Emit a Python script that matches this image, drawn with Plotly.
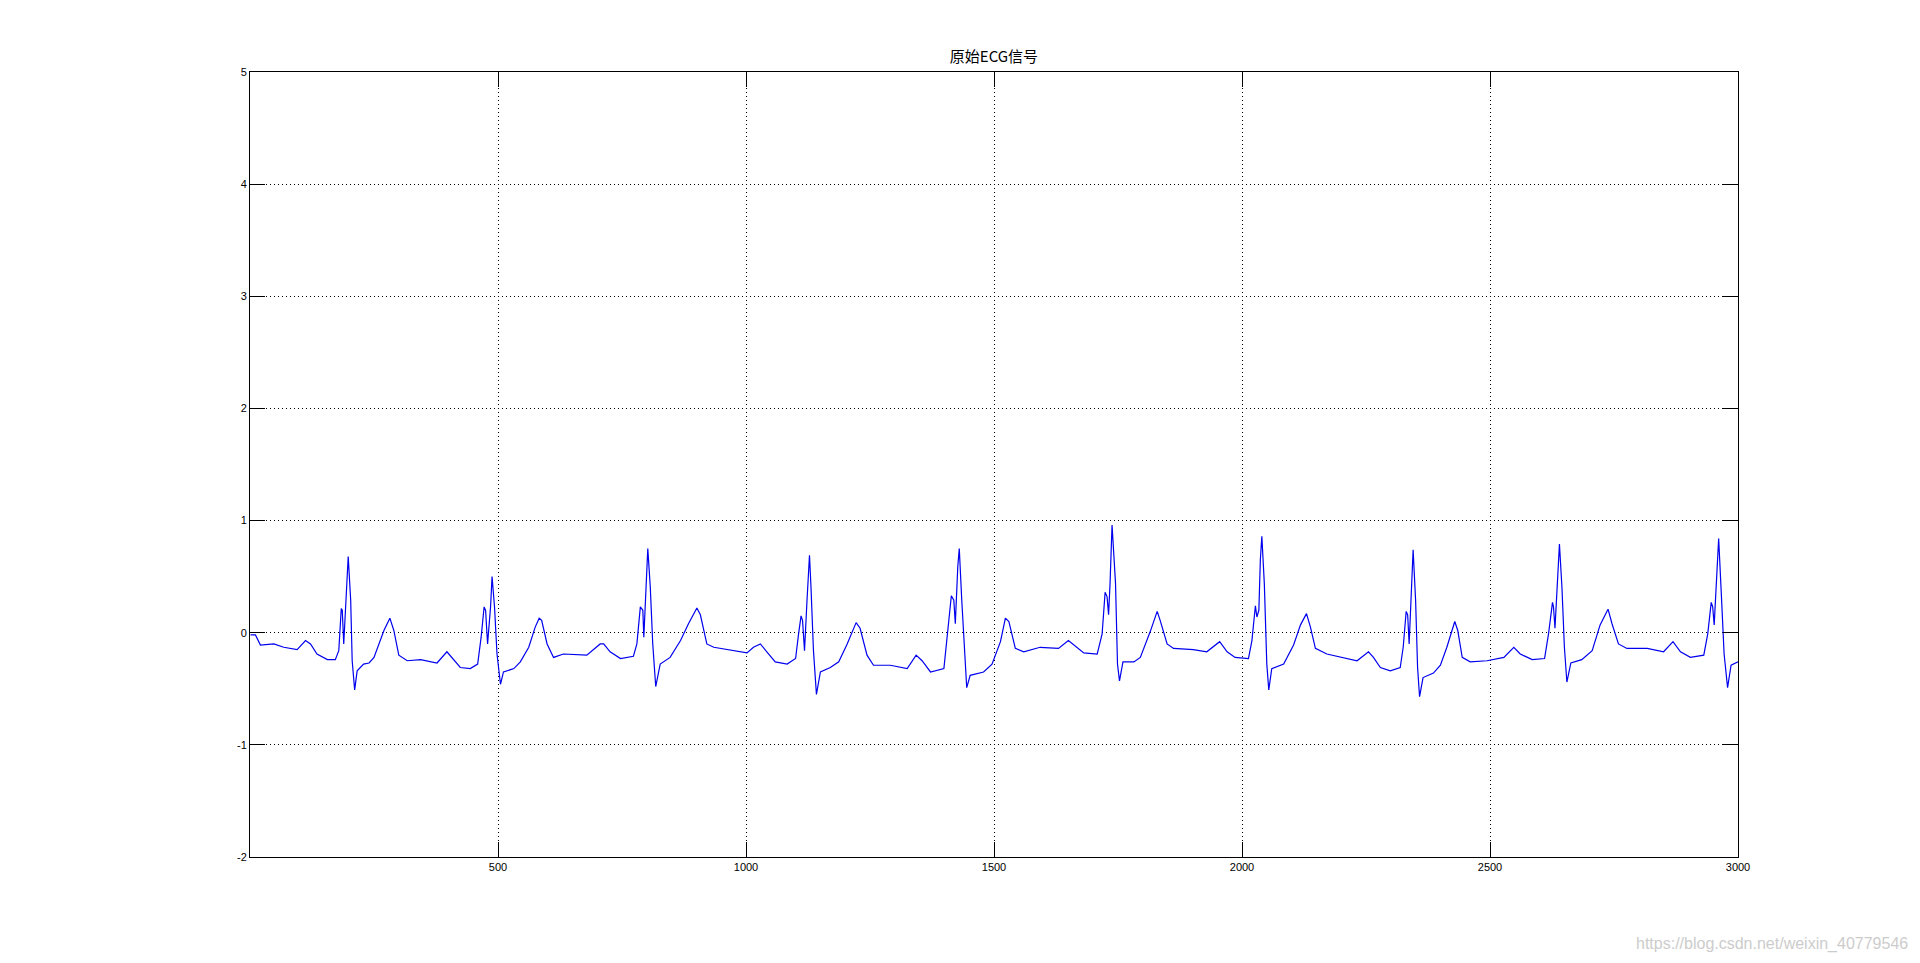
import plotly.graph_objects as go

# Sample index and amplitude
sample_idx = [
    1, 11, 21, 48, 68, 95, 112, 122, 135, 156, 172, 179, 184, 186, 189, 195, 198, 203, 206, 211,
    216, 229, 240, 250, 270, 282, 290, 300, 317, 344, 377, 397, 411, 424, 444, 459, 466, 472, 475, 479,
    485, 488, 493, 498, 505, 511, 532, 545, 562, 575, 583, 588, 599, 612, 632, 679,
    706, 713, 726, 747, 773, 780, 787, 792, 794, 798, 802, 807, 812, 818, 827, 847, 868, 884, 901, 908,
    921, 935, 975, 1002, 1015, 1029, 1042, 1059, 1083, 1100, 1106, 1111, 1114, 1118, 1123, 1128, 1131, 1136, 1142, 1150,
    1170, 1187, 1204, 1222, 1230, 1244, 1257, 1291, 1325, 1343, 1355, 1372, 1399, 1405, 1414, 1419, 1422, 1427, 1430, 1435,
    1441, 1445, 1452, 1479, 1496,
    1513, 1523, 1530, 1543, 1560, 1593, 1630, 1650, 1661, 1681, 1708, 1718, 1724, 1728, 1731, 1734, 1738, 1745, 1749, 1753,
    1760, 1782, 1795, 1815, 1829, 1835, 1849, 1862, 1902, 1929, 1955, 1970, 1986, 2013, 2020, 2027, 2030, 2034, 2037, 2040,
    2045, 2050, 2054, 2060, 2084, 2104, 2118, 2130, 2138, 2148, 2171, 2212, 2232, 2255, 2265, 2279, 2299,
    2319, 2325, 2331, 2334, 2337, 2341, 2345, 2350, 2354, 2358, 2365, 2386, 2400, 2413, 2429, 2435, 2444, 2460, 2494, 2528,
    2548, 2561, 2585, 2610, 2618, 2626, 2628, 2631, 2635, 2640, 2645, 2650, 2655, 2663, 2685, 2706, 2722, 2738, 2746, 2759,
    2776, 2817, 2850, 2869, 2884, 2904, 2931, 2939, 2946, 2949, 2952, 2958, 2961, 2966, 2972, 2979, 2986, 3000,
]
ecg_value = [
    -0.02, -0.02, -0.11, -0.10, -0.13, -0.15, -0.07, -0.10, -0.19, -0.24, -0.24, -0.16, 0.215, 0.20, -0.10, 0.41, 0.68, 0.29, -0.25, -0.51,
    -0.34, -0.28, -0.27, -0.22, 0.02, 0.13, 0.02, -0.20, -0.25, -0.24, -0.27, -0.17, -0.24, -0.31, -0.32, -0.28, -0.04, 0.23, 0.20, -0.10,
    0.23, 0.50, 0.23, -0.19, -0.46, -0.35, -0.32, -0.26, -0.13, 0.05, 0.13, 0.11, -0.10, -0.22, -0.19, -0.20,
    -0.10, -0.10, -0.17, -0.23, -0.21, -0.10, 0.23, 0.20, -0.04, 0.44, 0.75, 0.41, -0.10, -0.48, -0.28, -0.22, -0.07, 0.08, 0.22, 0.16,
    -0.10, -0.13, -0.16, -0.18, -0.13, -0.10, -0.17, -0.26, -0.28, -0.23, -0.01, 0.15, 0.11, -0.16, 0.29, 0.69, 0.41, -0.16, -0.55, -0.35,
    -0.31, -0.26, -0.10, 0.09, 0.04, -0.20, -0.29, -0.29, -0.32, -0.20, -0.25, -0.35, -0.32, -0.07, 0.33, 0.29, 0.08, 0.59, 0.75, 0.29,
    -0.16, -0.49, -0.38, -0.35, -0.28,
    -0.08, 0.13, 0.10, -0.14, -0.17, -0.13, -0.14, -0.07, -0.11, -0.18, -0.19, -0.01, 0.36, 0.32, 0.16, 0.44, 0.96, 0.44, -0.28, -0.43,
    -0.26, -0.26, -0.22, 0.01, 0.19, 0.11, -0.10, -0.14, -0.15, -0.17, -0.08, -0.17, -0.22, -0.23, -0.07, 0.24, 0.14, 0.20, 0.65, 0.86,
    0.44, -0.28, -0.51, -0.32, -0.28, -0.11, 0.07, 0.17, 0.05, -0.14, -0.19, -0.23, -0.25, -0.17, -0.22, -0.31, -0.34,
    -0.31, -0.13, 0.19, 0.16, -0.10, 0.41, 0.74, 0.29, -0.31, -0.57, -0.40, -0.36, -0.29, -0.13, 0.10, 0.02, -0.22, -0.26, -0.25, -0.22,
    -0.13, -0.19, -0.24, -0.23, -0.01, 0.27, 0.23, 0.04, 0.41, 0.79, 0.41, -0.13, -0.44, -0.27, -0.24, -0.16, 0.07, 0.21, 0.08, -0.10,
    -0.14, -0.14, -0.17, -0.08, -0.17, -0.22, -0.20, -0.01, 0.27, 0.23, 0.07, 0.59, 0.84, 0.38, -0.19, -0.49, -0.29, -0.26,
]

x_ticks = [500, 1000, 1500, 2000, 2500, 3000]
y_ticks = [-2, -1, 0, 1, 2, 3, 4, 5]
title_text = "原始ECG信号"
watermark = "https://blog.csdn.net/weixin_40779546"

fig = go.Figure()
fig.add_trace(go.Scatter(
    x=sample_idx, y=ecg_value, mode="lines",
    line=dict(color="#0000ee", width=1.2), showlegend=False,
))

axis_common = dict(
    showline=True, linecolor="black", linewidth=1, mirror="ticks",
    ticks="inside", ticklen=15, tickwidth=1, tickcolor="black",
    showgrid=True, gridcolor="black", gridwidth=1, griddash="1px,3px",
    zeroline=False,
    tickfont=dict(family="Liberation Sans, Arial, sans-serif", size=11, color="black"),
)

# page body has an 8px default margin; figure is sized/margined to compensate
fig.update_layout(
    width=1904, height=947,
    paper_bgcolor="white", plot_bgcolor="white",
    margin=dict(l=242, r=174, t=64, b=98),
    title=dict(text=title_text, x=0.5, xanchor="center", xref="paper",
               y=1, yref="paper", yanchor="bottom", pad=dict(b=10),
               font=dict(family="Noto Sans CJK SC, sans-serif", size=15, color="black")),
    xaxis=dict(range=[0, 3000], tickvals=x_ticks, ticktext=[str(v) for v in x_ticks], **axis_common),
    yaxis=dict(range=[-2, 5], tickvals=y_ticks, ticktext=[str(v) for v in y_ticks], **axis_common),
)

fig.add_annotation(
    text=watermark, xref="paper", yref="paper", x=1.1156, y=-0.1108,
    xanchor="right", yanchor="middle", showarrow=False,
    font=dict(family="Liberation Sans, Arial, sans-serif", size=16, color="#cccccc"),
)

fig.write_html("out.html")
